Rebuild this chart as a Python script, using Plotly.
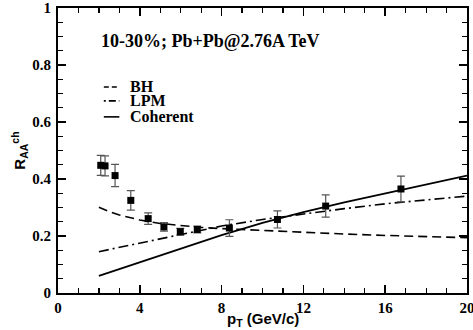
import plotly.graph_objects as go

# Data points (charged hadron R_AA, 10-30%)
pt_data = [2.09, 2.30, 2.79, 3.56, 4.41, 5.18, 5.98, 6.81, 8.38, 10.73, 13.09, 16.77]
raa_data = [0.448, 0.446, 0.412, 0.325, 0.261, 0.232, 0.215, 0.223, 0.228, 0.258, 0.305, 0.365]
raa_err = [0.035, 0.035, 0.039, 0.034, 0.020, 0.015, 0.012, 0.012, 0.029, 0.030, 0.039, 0.045]

# Model curves
bh_x = [2, 2.5, 3, 4, 5, 6, 7, 8, 10, 12, 14, 16, 18, 20]
bh_y = [0.301, 0.286, 0.274, 0.256, 0.244, 0.236, 0.230, 0.226, 0.219, 0.212, 0.207, 0.202, 0.198, 0.194]

lpm_x = [2, 3, 4, 5, 6, 7, 8, 10, 12, 14, 16, 18, 20]
lpm_y = [0.145, 0.160, 0.176, 0.192, 0.207, 0.221, 0.235, 0.258, 0.278, 0.296, 0.313, 0.327, 0.340]

coh_x = [2, 4, 6, 8, 10, 12, 14, 16, 18, 20]
coh_y = [0.060, 0.107, 0.154, 0.203, 0.246, 0.284, 0.318, 0.350, 0.382, 0.412]

x_ticks = [0, 4, 8, 12, 16, 20]
y_ticks = [0, 0.2, 0.4, 0.6, 0.8, 1]
y_labels = ["0", "0.2", "0.4", "0.6", "0.8", "1"]

legend_names = ["BH", "LPM", "Coherent"]
legend_dashes = ["5px,3px", "2px,3px,7px,3px", "solid"]

serif_bold = "Liberation Serif"
sans = "Liberation Sans"

fig = go.Figure()

fig.add_trace(go.Scatter(x=bh_x, y=bh_y, mode="lines", name="BH", showlegend=False,
                         line=dict(color="black", width=1.6, dash="9px,5px")))
fig.add_trace(go.Scatter(x=lpm_x, y=lpm_y, mode="lines", name="LPM", showlegend=False,
                         line=dict(color="black", width=1.6, dash="10px,4px,2px,4px")))
fig.add_trace(go.Scatter(x=coh_x, y=coh_y, mode="lines", name="Coherent", showlegend=False,
                         line=dict(color="black", width=1.8)))
fig.add_trace(go.Scatter(x=pt_data, y=raa_data, mode="markers", showlegend=False,
                         marker=dict(symbol="square", size=7, color="black"),
                         error_y=dict(type="data", array=raa_err, visible=True,
                                      color="#555555", thickness=1.2, width=4)))

axis_common = dict(
    showgrid=False, zeroline=False, showline=True, linecolor="black", linewidth=2,
    mirror="ticks", ticks="inside", ticklen=8, tickwidth=1.5, tickcolor="black",
    tickfont=dict(family=serif_bold, size=15, color="black", weight="bold"),
    automargin=False, ticklabeloverflow="allow",
)

fig.update_xaxes(range=[0, 20], tickvals=x_ticks, ticktext=[f"<b>{v}</b>" for v in x_ticks],
                 minor=dict(dtick=1, ticks="inside", ticklen=5, tickwidth=1.2, tickcolor="black"),
                 ticklabelstandoff=0,
                 **axis_common)
fig.update_yaxes(range=[0, 1], tickvals=y_ticks, ticktext=[f"<b>{v}</b>" for v in y_labels],
                 minor=dict(dtick=0.05, ticks="inside", ticklen=5, tickwidth=1.2, tickcolor="black"),
                 ticklabelstandoff=2,
                 **axis_common)

# Axis titles
fig.add_annotation(x=0.5, y=-0.092, xref="paper", yref="paper", xanchor="center", yanchor="middle",
                   text="<b>p<sub>T</sub> (GeV/c)</b>", showarrow=False,
                   font=dict(family=sans, size=15, color="black"))
fig.add_annotation(x=-0.095, y=0.5, xref="paper", yref="paper", xanchor="center", yanchor="middle",
                   text="<b>R<sub>AA</sub><sup>ch</sup></b>", showarrow=False, textangle=-90,
                   font=dict(family=sans, size=15, color="black"))

fig.add_annotation(x=0.1, y=0.885, xref="paper", yref="paper", xanchor="left", yanchor="middle",
                   text="<b>10-30%; Pb+Pb@2.76A TeV</b>", showarrow=False,
                   font=dict(family=serif_bold, size=18, color="black"))

# Manual legend (text + line samples)
leg_y = [0.723, 0.674, 0.618]
for name, dash, yy in zip(legend_names, legend_dashes, leg_y):
    fig.add_shape(type="line", xref="paper", yref="paper", x0=0.112, x1=0.150, y0=yy, y1=yy,
                  line=dict(color="black", width=1.6, dash=dash))
    fig.add_annotation(x=0.171, y=yy, xref="paper", yref="paper", xanchor="left", yanchor="middle",
                       text=f"<b>{name}</b>", showarrow=False,
                       font=dict(family=serif_bold, size=16, color="black"))

fig.update_layout(
    width=473, height=330,
    margin=dict(l=58, r=6, t=8, b=37),
    paper_bgcolor="white", plot_bgcolor="white",
    showlegend=False,
)

fig.write_html("out.html", config={"displayModeBar": False, "staticPlot": True},
               post_script="document.body.style.margin='0';document.body.style.overflow='hidden';")
